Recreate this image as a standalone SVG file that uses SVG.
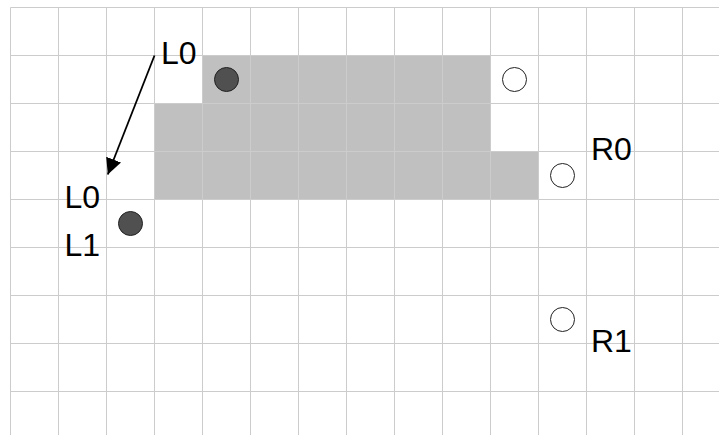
<svg xmlns="http://www.w3.org/2000/svg" width="719" height="435" viewBox="0 0 719 435">
<style>
.grid line{stroke:#cccccc;stroke-width:1}
.blk{fill:#c0c0c0;stroke:none}
.dark{fill:#505050;stroke:#222;stroke-width:1}
.open{fill:#fff;stroke:#222;stroke-width:1}
.lbl{font-family:"Liberation Sans",Arial,sans-serif;font-size:32px;fill:#000}
.conn{stroke:#000;stroke-width:1.8;fill:none}
</style>
<defs>
<marker id="ah" markerUnits="userSpaceOnUse" markerWidth="18" markerHeight="18" refX="16" refY="8" orient="auto">
<path d="M0,0 L16,8 L0,16 Z" fill="#000"/>
</marker>
</defs>
<rect width="719" height="435" fill="#fff"/>
<g id="region">
<rect class="blk" x="202.5" y="55.5" width="288" height="48"/>
<rect class="blk" x="154.5" y="103.5" width="336" height="48"/>
<rect class="blk" x="154.5" y="151.5" width="384" height="48"/>
</g>
<g class="grid" id="grid">
<line x1="10.5" y1="7.5" x2="10.5" y2="435"/>
<line x1="58.5" y1="7.5" x2="58.5" y2="435"/>
<line x1="106.5" y1="7.5" x2="106.5" y2="435"/>
<line x1="154.5" y1="7.5" x2="154.5" y2="435"/>
<line x1="202.5" y1="7.5" x2="202.5" y2="435"/>
<line x1="250.5" y1="7.5" x2="250.5" y2="435"/>
<line x1="298.5" y1="7.5" x2="298.5" y2="435"/>
<line x1="346.5" y1="7.5" x2="346.5" y2="435"/>
<line x1="394.5" y1="7.5" x2="394.5" y2="435"/>
<line x1="442.5" y1="7.5" x2="442.5" y2="435"/>
<line x1="490.5" y1="7.5" x2="490.5" y2="435"/>
<line x1="538.5" y1="7.5" x2="538.5" y2="435"/>
<line x1="586.5" y1="7.5" x2="586.5" y2="435"/>
<line x1="634.5" y1="7.5" x2="634.5" y2="435"/>
<line x1="682.5" y1="7.5" x2="682.5" y2="435"/>
<line x1="10.5" y1="7.5" x2="719" y2="7.5"/>
<line x1="10.5" y1="55.5" x2="719" y2="55.5"/>
<line x1="10.5" y1="103.5" x2="719" y2="103.5"/>
<line x1="10.5" y1="151.5" x2="719" y2="151.5"/>
<line x1="10.5" y1="199.5" x2="719" y2="199.5"/>
<line x1="10.5" y1="247.5" x2="719" y2="247.5"/>
<line x1="10.5" y1="295.5" x2="719" y2="295.5"/>
<line x1="10.5" y1="343.5" x2="719" y2="343.5"/>
<line x1="10.5" y1="391.5" x2="719" y2="391.5"/>
</g>
<g id="connectors">
<line class="conn" x1="154.5" y1="55.5" x2="107.8" y2="174.5" marker-end="url(#ah)"/>
</g>
<g id="L0-top">
<circle class="dark" cx="226.5" cy="79.5" r="12"/>
<text class="lbl" x="161" y="64">L0</text>
</g>
<g id="L0L1-left">
<circle class="dark" cx="130.5" cy="223.5" r="12"/>
<text class="lbl" x="64.5" y="208">L0</text>
<text class="lbl" x="64.5" y="256">L1</text>
</g>
<g id="open-top">
<circle class="open" cx="514.5" cy="79.5" r="12"/>
</g>
<g id="R0">
<circle class="open" cx="562.5" cy="175.5" r="12"/>
<text class="lbl" x="591" y="160">R0</text>
</g>
<g id="R1">
<circle class="open" cx="562.5" cy="319.5" r="12"/>
<text class="lbl" x="591" y="352">R1</text>
</g>
</svg>
